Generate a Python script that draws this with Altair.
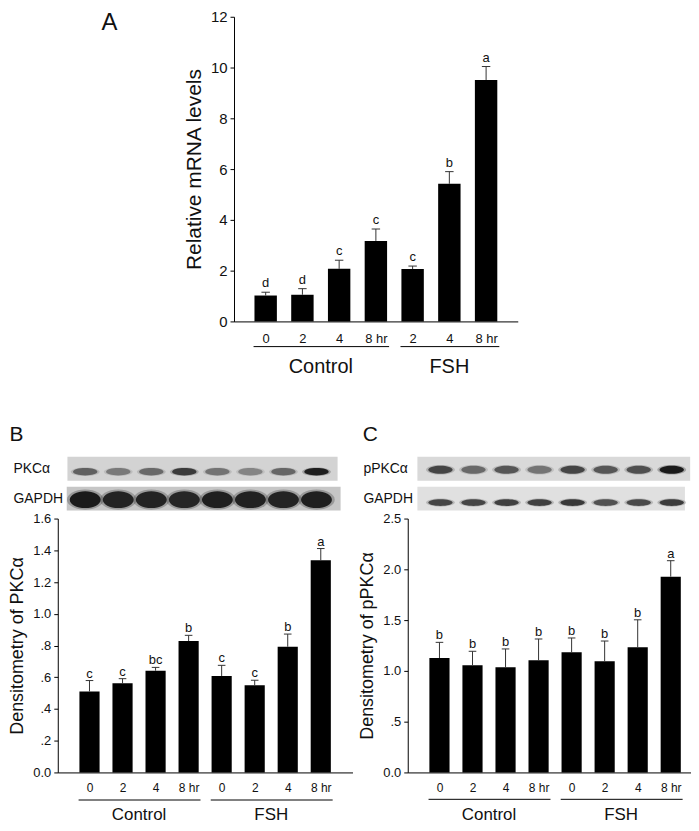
import json
import altair as alt
import pandas as pd

FONT = "Liberation Sans"
INK = "#111111"

# ---------------- Panel A : relative mRNA levels ----------------
a_tick_labels = ["0", "2", "4", "8 hr", "2", "4", "8 hr"]
a_groups = ["Control", "Control", "Control", "Control", "FSH", "FSH", "FSH"]
a_mean = [1.02, 1.05, 2.07, 3.17, 2.06, 5.42, 9.51]
a_sem = [0.13, 0.24, 0.34, 0.47, 0.12, 0.48, 0.53]
a_sig = ["d", "d", "c", "c", "c", "b", "a"]
a_yvals = [0, 2, 4, 6, 8, 10, 12]
a_ylabels = ["0", "2", "4", "6", "8", "10", "12"]

# ---------------- Panel B : PKCalpha ----------------
b_tick_labels = ["0", "2", "4", "8 hr", "0", "2", "4", "8 hr"]
b_groups = ["Control", "Control", "Control", "Control", "FSH", "FSH", "FSH", "FSH"]
b_mean = [0.510, 0.562, 0.641, 0.828, 0.608, 0.549, 0.792, 1.337]
b_sem = [0.069, 0.029, 0.021, 0.036, 0.067, 0.032, 0.080, 0.074]
b_sig = ["c", "c", "bc", "b", "c", "c", "b", "a"]
b_yvals = [0, 0.2, 0.4, 0.6, 0.8, 1.0, 1.2, 1.4, 1.6]
b_ylabels = ["0.0", ".2", ".4", ".6", ".8", "1.0", "1.2", "1.4", "1.6"]
b_blot_rows = ["PKCα", "GAPDH"]
b_blot_target = [0.55, 0.42, 0.50, 0.78, 0.45, 0.36, 0.52, 0.97]
b_blot_gapdh = [1.00, 0.93, 0.93, 0.90, 0.96, 0.94, 0.93, 0.96]

# ---------------- Panel C : pPKCalpha ----------------
c_tick_labels = ["0", "2", "4", "8 hr", "0", "2", "4", "8 hr"]
c_groups = ["Control", "Control", "Control", "Control", "FSH", "FSH", "FSH", "FSH"]
c_mean = [1.127, 1.056, 1.036, 1.105, 1.183, 1.095, 1.232, 1.928]
c_sem = [0.154, 0.137, 0.180, 0.209, 0.141, 0.199, 0.271, 0.157]
c_sig = ["b", "b", "b", "b", "b", "b", "b", "a"]
c_yvals = [0, 0.5, 1.0, 1.5, 2.0, 2.5]
c_ylabels = ["0.0", ".5", "1.0", "1.5", "2.0", "2.5"]
c_blot_rows = ["pPKCα", "GAPDH"]
c_blot_target = [0.72, 0.52, 0.62, 0.46, 0.72, 0.62, 0.66, 1.00]
c_blot_gapdh = [0.72, 0.72, 0.76, 0.76, 0.80, 0.66, 0.70, 0.78]


def bar_panel(means, sems, sig, ticklabels, groups, yvals, ylabels, ymax,
              width, height, lo, hi, ytitle, ytitle_size, ylabel_size,
              xlabel_size, xlabel_pad, group_size, group_dy, line_dy,
              sig_dy, sig_size, title_pad, letter, letter_rx, letter_ry,
              letter_size):
    n = len(means)
    half, cap = 0.305, 0.115
    df = pd.DataFrame({
        "pos": list(range(1, n + 1)),
        "mean": means,
        "top": [m + s for m, s in zip(means, sems)],
        "sig": sig,
    })
    df["x0"] = df["pos"] - half
    df["x1"] = df["pos"] + half
    df["c0"] = df["pos"] - cap
    df["c1"] = df["pos"] + cap

    gnames = list(dict.fromkeys(groups))
    gdf = pd.DataFrame({
        "group": gnames,
        "start": [min(i + 1 for i, g in enumerate(groups) if g == gn) - 0.33 for gn in gnames],
        "end": [max(i + 1 for i, g in enumerate(groups) if g == gn) + 0.36 for gn in gnames],
        "center": [sum(i + 1 for i, g in enumerate(groups) if g == gn) /
                   groups.count(gn) for gn in gnames],
    })

    xs = alt.Scale(domain=[lo, hi], nice=False, zero=False)
    ys = alt.Scale(domain=[0, ymax], nice=False, zero=True)
    xaxis = alt.Axis(values=list(range(1, n + 1)),
                     labelExpr=f"{json.dumps(ticklabels)}[datum.value - 1]",
                     ticks=False, tickSize=0, domainColor="black", domainWidth=1,
                     labelFontSize=xlabel_size, labelPadding=xlabel_pad,
                     labelColor=INK, grid=False, labelAngle=0, labelFlush=False,
                     labelOverlap=False, title=None)
    yaxis = alt.Axis(values=yvals,
                     labelExpr=f"{json.dumps(ylabels)}[indexof({json.dumps(yvals)}, datum.value)]",
                     tickSize=4, tickColor="black", tickWidth=1,
                     domainColor="black", domainWidth=1,
                     labelFontSize=ylabel_size, labelPadding=3, labelColor=INK,
                     grid=False, title=ytitle, titleFontSize=ytitle_size,
                     titleFontWeight="normal", titleColor=INK,
                     titlePadding=title_pad, labelFlush=False, labelOverlap=False)

    def X(field=None, datum=None):
        if datum is not None:
            return alt.X(datum=datum, scale=xs, axis=xaxis)
        return alt.X(field, scale=xs, axis=xaxis)

    def Y(field=None, datum=None):
        if datum is not None:
            return alt.Y(datum=datum, scale=ys, axis=yaxis)
        return alt.Y(field, scale=ys, axis=yaxis)

    base = alt.Chart(df)
    bars = base.mark_rect(color="black").encode(
        x=X("x0:Q"), x2="x1:Q", y=Y("mean:Q"), y2=alt.datum(0))
    err = base.mark_rule(color="#333333", strokeWidth=1).encode(
        x=X("pos:Q"), y=Y("mean:Q"), y2="top:Q")
    caps = base.mark_rule(color="#333333", strokeWidth=1).encode(
        x=X("c0:Q"), x2="c1:Q", y=Y("top:Q"))
    sigs = base.mark_text(dy=sig_dy, baseline="alphabetic", fontSize=sig_size,
                          color=INK).encode(
        x=X("pos:Q"), y=Y("top:Q"), text="sig:N")
    gbase = alt.Chart(gdf)
    glines = gbase.mark_rule(color="black", strokeWidth=1, yOffset=line_dy).encode(
        x=X("start:Q"), x2="end:Q", y=Y(datum=0))
    gtext = gbase.mark_text(dy=group_dy, baseline="alphabetic",
                            fontSize=group_size, color=INK).encode(
        x=X("center:Q"), y=Y(datum=0), text="group:N")
    # panel letter, positioned by a pixel offset converted to data units
    ldf = pd.DataFrame({"t": [letter]})
    let = alt.Chart(ldf).mark_text(align="left", baseline="alphabetic",
                                   fontSize=letter_size, color=INK).encode(
        x=X(datum=lo + letter_rx * (hi - lo) / width),
        y=Y(datum=ymax - letter_ry * ymax / height),
        text="t:N")
    return alt.layer(bars, err, caps, sigs, glines, gtext, let).properties(
        width=width, height=height)


def blot_panel(rows, target, gapdh, bg_colors, boxes, lane_shift, n, lo, hi,
               width, height, label_size, t_shape, t_size, t_dy, g_shape,
               g_size, g_dy):
    xs = alt.Scale(domain=[lo, hi], nice=False, zero=False)
    ys = alt.Scale(domain=rows, paddingInner=0.2, paddingOuter=0)
    yaxis = alt.Axis(labelAlign="left", labelPadding=45, domain=False,
                     ticks=False, tickSize=0, labelFontSize=label_size,
                     labelColor=INK, title=None, labelBaseline="middle")
    bg = pd.DataFrame({"row": rows, "x0": [b[0] for b in boxes],
                       "x1": [b[1] for b in boxes], "bg": bg_colors})
    rect = alt.Chart(bg).mark_rect().encode(
        x=alt.X("x0:Q", scale=xs, axis=None), x2="x1:Q",
        y=alt.Y("row:N", scale=ys, sort=rows, axis=yaxis),
        color=alt.Color("bg:N", scale=None))
    layers = [rect]
    for row, vals, shape, size, dy in ((rows[0], target, t_shape, t_size, t_dy),
                                       (rows[1], gapdh, g_shape, g_size, g_dy)):
        d = pd.DataFrame({"lane": [i + 1 + lane_shift for i in range(n)],
                          "row": row, "v": vals})
        d["vh"] = d["v"] * 0.3
        halo = alt.Chart(d).mark_point(filled=True, shape=shape, size=size * 1.4,
                                       color="#2a2a2a", strokeWidth=0,
                                       yOffset=dy).encode(
            x=alt.X("lane:Q", scale=xs, axis=None),
            y=alt.Y("row:N", scale=ys, sort=rows, axis=yaxis),
            opacity=alt.Opacity("vh:Q", scale=None))
        core = alt.Chart(d).mark_point(filled=True, shape=shape, size=size,
                                       color="#1a1a1a", strokeWidth=0,
                                       yOffset=dy).encode(
            x=alt.X("lane:Q", scale=xs, axis=None),
            y=alt.Y("row:N", scale=ys, sort=rows, axis=yaxis),
            opacity=alt.Opacity("v:Q", scale=None))
        layers += [halo, core]
    return alt.layer(*layers).properties(width=width, height=height)


def ellipse(r):
    return f"M-1,0 A1,{r} 0 1,1 1,0 A1,{r} 0 1,1 -1,0 Z"


# geometry (pixels)
A_W, A_H, A_PAD = 285, 306, 0.862
A_LO, A_HI = 1 - A_PAD, 7 + A_PAD
BC_H, BC_PAD = 255, 0.96
B_W = 296
B_LO, B_HI = 1 - BC_PAD, 8 + BC_PAD
STEP = B_W / (B_HI - B_LO)
C_W = 284
C_LO, C_HI = B_LO, B_LO + C_W / STEP

chartA = bar_panel(a_mean, a_sem, a_sig, a_tick_labels, a_groups, a_yvals,
                   a_ylabels, 12, A_W, A_H, A_LO, A_HI, "Relative mRNA levels", 21,
                   15, 13, 11, 20, 52, 25.3, -5, 13, 6, "A", -133, 13, 24)

chartB = bar_panel(b_mean, b_sem, b_sig, b_tick_labels, b_groups, b_yvals,
                   b_ylabels, 1.6, B_W, BC_H, B_LO, B_HI, "Densitometry of PKCα", 18,
                   13, 12, 10, 17, 48, 27.7, -3, 13, 6, "B", -48.5, -78, 21)

chartC = bar_panel(c_mean, c_sem, c_sig, c_tick_labels, c_groups, c_yvals,
                   c_ylabels, 2.5, C_W, BC_H, C_LO, C_HI, "Densitometry of pPKCα", 18,
                   13, 12, 10, 17, 48, 27.0, -3, 13, 6, "C", -45.3, -78, 21)

blotB = blot_panel(b_blot_rows, b_blot_target, b_blot_gapdh,
                   ["#d3d3d3", "#c6c6c6"], [(0.332, 8.509), (0.311, 8.60)],
                   -0.13, 8, B_LO, B_HI, B_W, 54, 14,
                   ellipse(0.3), 600, 3, ellipse(0.55), 960, 1)

blotC = blot_panel(c_blot_rows, c_blot_target, c_blot_gapdh,
                   ["#d9d9d9", "#e0e0e0"], [(0.332, C_HI - 0.01), (0.332, 8.43)],
                   0.03, 8, C_LO, C_HI, C_W, 54, 14,
                   ellipse(0.33), 600, 1, ellipse(0.28), 600, 4)

spacer = alt.Chart(pd.DataFrame({"a": [0], "b": [1]})).mark_rect(opacity=0).encode(
    x=alt.X("a:Q", axis=None, scale=alt.Scale(domain=[0, 1], nice=False)),
    x2="b:Q", y=alt.value(0), y2=alt.value(1)).properties(width=44, height=1)

rowA = alt.hconcat(spacer, chartA, spacing=0)
colB = alt.vconcat(blotB, chartB, spacing=8, bounds="flush")
colC = alt.vconcat(blotC, chartC, spacing=8, bounds="flush")
rowBC = alt.hconcat(colB, colC, spacing=5.5)

chart = alt.vconcat(rowA, rowBC, spacing=47,
                    padding={"left": 0, "top": 0, "right": 0, "bottom": 0}
                    ).configure(font=FONT).configure_view(stroke=None)

chart.save("out.html", embed_options={"renderer": "svg", "actions": False})
